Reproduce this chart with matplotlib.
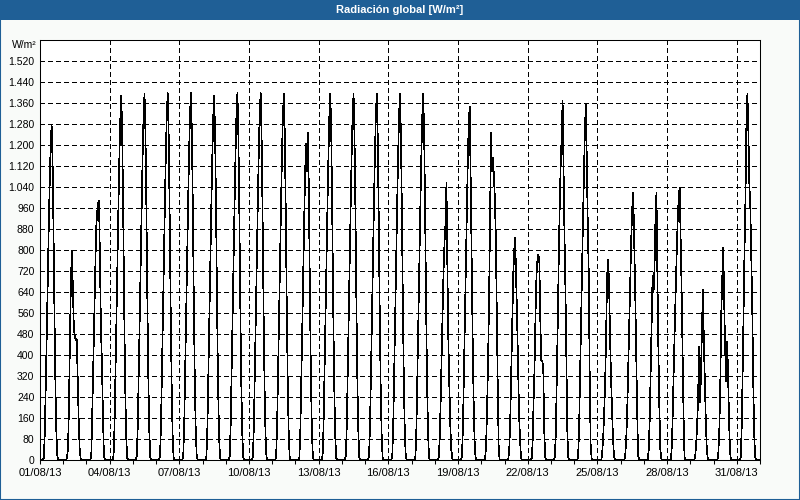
import numpy as np
import pandas as pd
import matplotlib
matplotlib.use('Agg')
import matplotlib.pyplot as plt
import matplotlib.dates as mdates
from matplotlib.patches import Rectangle
from matplotlib.ticker import FuncFormatter

plt.rcParams['font.family'] = ['Liberation Sans', 'DejaVu Sans']

titulo = 'Radiación global [W/m²]'
unidad = 'W/m²'
inicio = '2013-08-01'
fin = '2013-09-01'

# horas del dia con radiacion (el resto de la hora vale 0)
horas = list(range(4, 20))

# valores horarios, un dia por fila (01/08 ... 31/08)
dias = [
    [10, 110, 290, 480, 690, 880, 1050, 1200, 1276, 1140, 860, 540, 270, 90, 10, 0],
    [10, 50, 220, 480, 690, 796, 640, 500, 470, 455, 460, 300, 150, 40, 5, 0],
    [0, 20, 180, 360, 550, 700, 880, 940, 980, 987, 750, 500, 370, 180, 20, 0],
    [15, 130, 330, 540, 760, 960, 1150, 1300, 1389, 1230, 930, 580, 290, 100, 10, 0],
    [15, 125, 320, 530, 750, 950, 1150, 1310, 1395, 1240, 940, 590, 300, 105, 10, 0],
    [15, 130, 330, 545, 765, 965, 1160, 1320, 1397, 1230, 930, 585, 295, 100, 10, 0],
    [15, 130, 335, 550, 770, 970, 1160, 1320, 1397, 1235, 935, 585, 290, 100, 10, 0],
    [15, 128, 330, 540, 760, 960, 1150, 1305, 1389, 1225, 925, 575, 285, 95, 10, 0],
    [15, 130, 330, 545, 765, 965, 1160, 1320, 1397, 1235, 935, 585, 290, 100, 10, 0],
    [15, 128, 330, 545, 765, 965, 1160, 1320, 1397, 1230, 930, 580, 290, 100, 10, 0],
    [15, 130, 330, 540, 760, 960, 1155, 1315, 1395, 1230, 930, 580, 290, 100, 10, 0],
    [10, 110, 300, 500, 720, 920, 1100, 1204, 1100, 1246, 960, 600, 300, 100, 10, 0],
    [15, 130, 330, 540, 760, 960, 1150, 1310, 1395, 1230, 930, 580, 290, 100, 10, 0],
    [15, 130, 332, 545, 762, 962, 1155, 1312, 1395, 1232, 932, 582, 290, 100, 10, 0],
    [15, 128, 330, 540, 760, 960, 1150, 1310, 1395, 1230, 930, 580, 290, 100, 10, 0],
    [15, 130, 330, 542, 762, 960, 1152, 1310, 1395, 1228, 928, 578, 288, 98, 10, 0],
    [15, 130, 330, 540, 760, 960, 1150, 1310, 1395, 1230, 930, 580, 290, 100, 10, 0],
    [10, 80, 220, 400, 560, 720, 830, 900, 1055, 720, 450, 280, 130, 40, 5, 0],
    [15, 120, 320, 520, 740, 940, 1130, 1280, 1346, 1080, 770, 480, 240, 80, 10, 0],
    [5, 60, 200, 380, 600, 900, 1246, 1100, 1150, 1083, 1000, 850, 560, 280, 40, 0],
    [5, 50, 170, 350, 540, 700, 800, 847, 700, 540, 350, 180, 80, 10, 0, 0],
    [5, 60, 220, 350, 550, 700, 760, 783, 752, 530, 380, 375, 360, 120, 10, 0],
    [10, 100, 300, 520, 760, 960, 1120, 1220, 1369, 1100, 850, 640, 350, 90, 5, 0],
    [10, 110, 310, 520, 720, 900, 1080, 1250, 1357, 1150, 900, 720, 330, 60, 5, 0],
    [0, 30, 90, 180, 300, 480, 700, 762, 680, 480, 320, 200, 90, 20, 0, 0],
    [0, 30, 100, 220, 380, 550, 700, 850, 960, 1017, 835, 650, 420, 200, 20, 0],
    [0, 40, 150, 330, 520, 700, 640, 730, 924, 1017, 700, 420, 200, 40, 5, 0],
    [5, 60, 200, 370, 520, 660, 800, 920, 1000, 1038, 850, 650, 400, 170, 10, 0],
    [0, 10, 60, 130, 230, 433, 220, 320, 500, 650, 450, 300, 150, 40, 5, 0],
    [0, 30, 120, 300, 560, 694, 809, 600, 420, 300, 452, 330, 150, 30, 0, 0],
    [10, 110, 320, 560, 800, 1000, 1293, 1395, 1250, 1050, 962, 760, 580, 300, 100, 10],
]

fechas = pd.date_range(inicio, periods=len(dias) * 24, freq='h')
valores = np.zeros(len(fechas))
for d, dia in enumerate(dias):
    for h, v in zip(horas, dia):
        valores[d * 24 + h] = v

azul = '#1f5f96'
fig = plt.figure(figsize=(8, 5), dpi=100, facecolor='#f9fbf9')
ax = fig.add_axes([40 / 800, 40 / 500, 720 / 800, 420 / 500])
ax.set_facecolor('white')

ax.plot(fechas, valores, color='black', lw=0.5, antialiased=False, zorder=3)

ax.set_xlim(pd.Timestamp(inicio), pd.Timestamp(fin))
ax.set_ylim(0, 1600)
ax.set_yticks(np.arange(0, 1521, 80))
ax.yaxis.set_major_formatter(FuncFormatter(lambda v, p: f'{int(v):,}'.replace(',', '.')))
ax.set_xticks(pd.date_range(inicio, '2013-08-31', freq='3D'))
ax.set_xticks(pd.date_range(inicio, fin, freq='D'), minor=True)
ax.xaxis.set_major_formatter(mdates.DateFormatter('%d/%m/%y'))

ax.grid(True, which='major', color='black', linestyle=(0, (4, 3)), linewidth=0.75, antialiased=False)
ax.tick_params(axis='x', which='both', direction='out', length=3, width=0.75, labelsize=8, pad=3)
ax.tick_params(axis='y', length=0, labelsize=7.5, pad=4)
for s in ax.spines.values():
    s.set_linewidth(0.75)
    s.set_color('black')

fig.text(24 / 800, 1 - 45 / 500, unidad, fontsize=7.5, ha='center', va='center')

# barra de titulo y marco
fig.add_artist(Rectangle((0, 1 - 20 / 500), 1, 20 / 500, transform=fig.transFigure,
                         facecolor=azul, edgecolor='none', zorder=0))
fig.text(0.5, 1 - 10 / 500, titulo, color='white', fontsize=8, fontweight='bold',
         ha='center', va='center')
fig.add_artist(Rectangle((0, 0), 1, 1, transform=fig.transFigure, fill=False,
                         edgecolor=azul, lw=1.5))

fig.savefig('out.png', dpi=100, facecolor=fig.get_facecolor())
